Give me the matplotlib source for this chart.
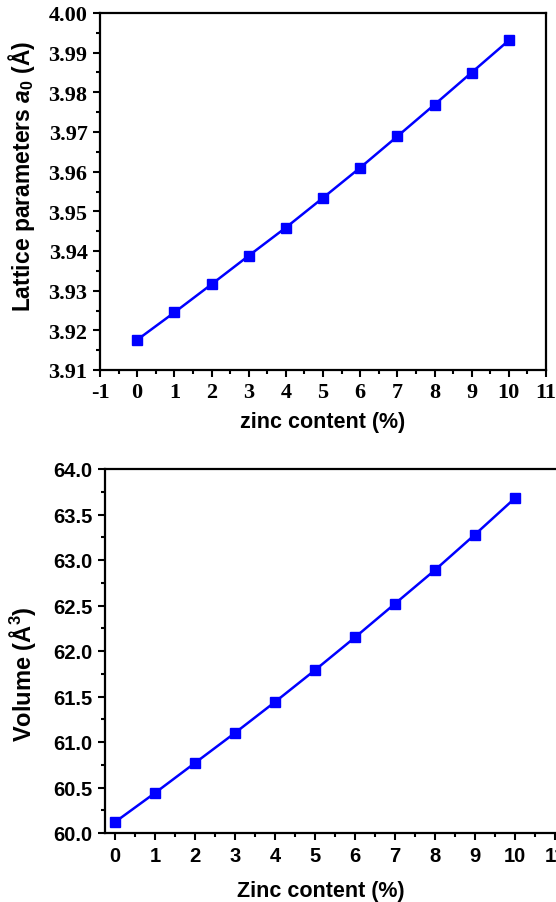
import numpy as np
from matplotlib import pyplot as plt
from matplotlib.ticker import MultipleLocator, FormatStrFormatter

plt.rcParams['axes.unicode_minus'] = False
plt.rcParams['mathtext.fontset'] = 'custom'
plt.rcParams['mathtext.rm'] = 'Liberation Sans:bold'
plt.rcParams['mathtext.bf'] = 'Liberation Sans:bold'
plt.rcParams['mathtext.it'] = 'Liberation Sans:bold:italic'

# zinc content (%)
zinc = [0, 1, 2, 3, 4, 5, 6, 7, 8, 9, 10]
# lattice parameter a0 (A)
lattice_a0 = [3.9176, 3.9245, 3.9316, 3.9388, 3.9459, 3.9534, 3.9610,
              3.9689, 3.9769, 3.9850, 3.9931]
# cell volume (A^3)
volume = [60.12, 60.44, 60.77, 61.10, 61.44, 61.79, 62.15, 62.52,
          62.89, 63.28, 63.68]

W, H = 556, 903
fig = plt.figure(figsize=(W / 100, H / 100), dpi=100)

def box(l, t, r, b):
    return [l / W, 1 - b / H, (r - l) / W, (b - t) / H]

blue = '#0000ff'

# ---- top panel
ax1 = fig.add_axes(box(100, 14, 546, 371))
ax1.plot(zinc, lattice_a0, '-s', color=blue, lw=1.8, ms=7.8)
ax1.set_xlim(-1, 11)
ax1.set_ylim(3.91, 4.00)
ax1.xaxis.set_major_locator(MultipleLocator(1))
ax1.xaxis.set_minor_locator(MultipleLocator(0.5))
ax1.yaxis.set_major_locator(MultipleLocator(0.01))
ax1.yaxis.set_minor_locator(MultipleLocator(0.005))
ax1.yaxis.set_major_formatter(FormatStrFormatter('%.2f'))
for lab in ax1.get_xticklabels() + ax1.get_yticklabels():
    lab.set_family('Liberation Serif')
    lab.set_fontweight('bold')
    lab.set_fontsize(16)
ax1.set_xlabel('zinc content (%)', family='Liberation Sans', fontweight='bold',
               fontsize=15.5, labelpad=6)
ax1.set_ylabel(r'Lattice parameters $a_0$ (Å)', family='Liberation Sans',
               fontweight='bold', fontsize=16.5)
ax1.yaxis.set_label_coords(-0.141, 0.545)

# ---- bottom panel (right side runs off the figure)
ax2 = fig.add_axes(box(105, 470, 105 + 40 * 11.75, 834))
ax2.plot(zinc, volume, '-s', color=blue, lw=1.8, ms=7.8)
ax2.set_xlim(-0.25, 11.5)
ax2.set_ylim(60, 64)
ax2.xaxis.set_major_locator(MultipleLocator(1))
ax2.xaxis.set_minor_locator(MultipleLocator(0.5))
ax2.yaxis.set_major_locator(MultipleLocator(0.5))
ax2.yaxis.set_minor_locator(MultipleLocator(0.25))
ax2.yaxis.set_major_formatter(FormatStrFormatter('%.1f'))
for lab in ax2.get_xticklabels() + ax2.get_yticklabels():
    lab.set_family('Liberation Sans')
    lab.set_fontweight('bold')
    lab.set_fontsize(14.5)
ax2.set_xlabel('Zinc content (%)', family='Liberation Sans', fontweight='bold',
               fontsize=15.5)
ax2.xaxis.set_label_coords(0.46, -0.13)
ax2.set_ylabel(r'Volume (Å$^{3}$)', family='Liberation Sans',
               fontweight='bold', fontsize=17)
ax2.yaxis.set_label_coords(-0.143, 0.44)

for ax in (ax1, ax2):
    for s in ax.spines.values():
        s.set_linewidth(1.6)
    ax.tick_params(which='both', direction='out', width=1.5, top=False, right=False)
    ax.tick_params(which='major', length=5, pad=4)
    ax.tick_params(which='minor', length=3)

fig.savefig('out.png', dpi=100)
